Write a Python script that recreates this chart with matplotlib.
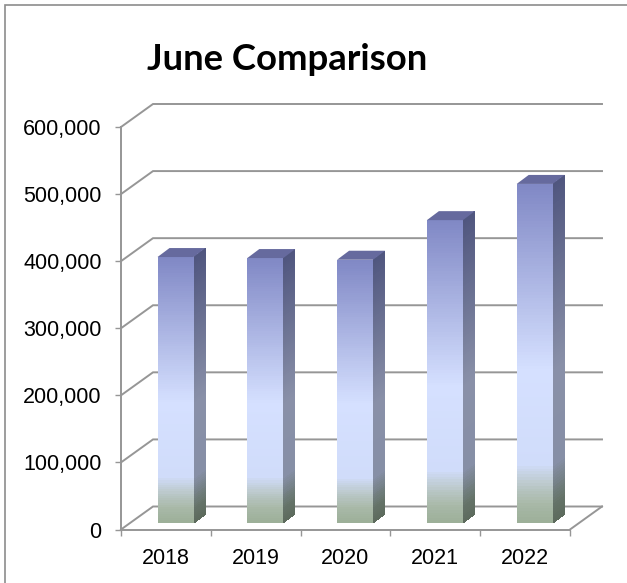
import numpy as np
import matplotlib.pyplot as plt
from matplotlib.colors import LinearSegmentedColormap
from matplotlib.lines import Line2D

years = ['2018', '2019', '2020', '2021', '2022']
june_values = [396000, 394500, 392000, 451000, 505000]
y_ticks = [0, 100000, 200000, 300000, 400000, 500000, 600000]

W, H = 627, 583
grey = '#969696'

# gradient along the bar height, 0 is the bottom
front_cmap = LinearSegmentedColormap.from_list('front', [
    (0.0, '#9CAF98'), (0.06, '#AABAAA'), (0.12, '#BECBD0'), (0.17, '#D0DCFA'),
    (0.45, '#D5E0FF'), (1.0, '#8088C5')])
side_cmap = LinearSegmentedColormap.from_list('side', [
    (0.0, '#5C6A5C'), (0.06, '#66746A'), (0.12, '#77838A'), (0.17, '#868FA6'),
    (0.45, '#8990A8'), (1.0, '#50567F')])

fig = plt.figure(figsize=(W / 100, H / 100), dpi=100)
fig.patch.set_facecolor('white')

# chart frame only shows on the top and left, the rest is cropped off
fig.add_artist(Line2D([5 / W, 5 / W, 1], [0, 1 - 4.5 / H, 1 - 4.5 / H],
                      transform=fig.transFigure, color='#8C8C8C', lw=1.2,
                      solid_joinstyle='miter'))

# front plane of the 3D box
ax = fig.add_axes([121 / W, 1 - 529.5 / H, 449 / W, 402.5 / H])
ax.set_xlim(-0.5, 4.5)
ax.set_ylim(0, 600000)
ax.patch.set_visible(False)
for s in ['top', 'right']:
    ax.spines[s].set_visible(False)
for s in ['left', 'bottom']:
    ax.spines[s].set_color(grey)
    ax.spines[s].set_linewidth(1.4)

per_px_x = 5 / 449
per_px_y = 600000 / 402.5

# box depth and bar depth
dx = 32 * per_px_x
dy = 23 * per_px_y
bar_dx = 12 * per_px_x
bar_dy = 9 * per_px_y
bar_w = 36 * per_px_x
bar_shift = 9.6 * per_px_x
bar_base = 6.8 * per_px_y

for v in y_ticks:
    ax.plot([-0.5, -0.5 + dx, 4.5 + dx], [v, v + dy, v + dy], color=grey, lw=1.4,
            clip_on=False, zorder=1, solid_joinstyle='miter')
ax.plot([4.5, 4.5 + dx], [0, dy], color=grey, lw=1.4, clip_on=False, zorder=1)

for i, val in enumerate(june_values):
    x0 = i - bar_w / 2 + bar_shift
    x1 = x0 + bar_w
    y0 = bar_base
    y1 = val + bar_base
    t = np.linspace(0, 1, 120)
    yy = y0 + (y1 - y0) * t
    grad = t[:-1, None] + 0.5 / 119

    X = np.column_stack([np.full_like(t, x0), np.full_like(t, x1)])
    Y = np.column_stack([yy, yy])
    ax.pcolormesh(X, Y, grad, cmap=front_cmap, vmin=0, vmax=1, zorder=3,
                  clip_on=False, rasterized=True)

    X = np.column_stack([np.full_like(t, x1), np.full_like(t, x1 + bar_dx)])
    Y = np.column_stack([yy, yy + bar_dy])
    ax.pcolormesh(X, Y, grad, cmap=side_cmap, vmin=0, vmax=1, zorder=3,
                  clip_on=False, rasterized=True)

    ax.fill([x0, x1, x1 + bar_dx, x0 + bar_dx], [y1, y1, y1 + bar_dy, y1 + bar_dy],
            color='#666A9E', lw=0, zorder=3, clip_on=False)

ax.set_xticks(np.arange(-0.5, 5, 1), minor=False, labels=[''] * 6)
ax.set_xticks(range(5), labels=years, minor=True)
ax.tick_params(axis='x', which='major', length=4.5, width=1.0, color=grey)
ax.tick_params(axis='x', which='minor', length=0, pad=13, labelsize=15.5)
ax.set_yticks(y_ticks, labels=[f'{v:,}' for v in y_ticks])
ax.tick_params(axis='y', length=4.5, width=1.0, color=grey, pad=9.5, labelsize=15.5)
for lab in ax.get_xticklabels(minor=True) + ax.get_yticklabels():
    lab.set_fontfamily('Liberation Sans')
    lab.set_color('black')

fig.text(287.5 / W, 1 - 59 / H, 'June Comparison', ha='center', va='center',
         fontsize=26.3, fontweight='bold', family='Lato', color='black')

fig.savefig('out.png', dpi=100)
